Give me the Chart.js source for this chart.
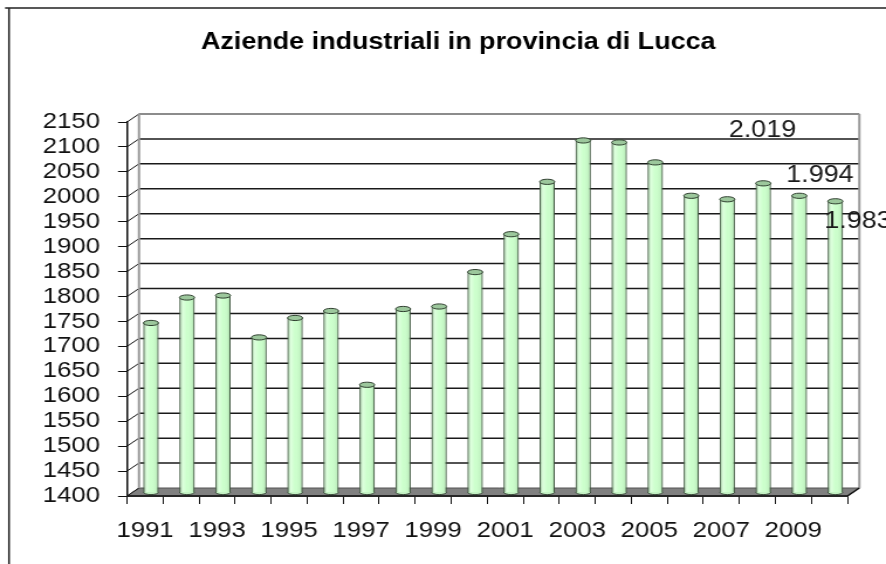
<!DOCTYPE html>
<html>
<head>
<meta charset="utf-8">
<script src="https://cdn.jsdelivr.net/npm/chart.js@4"></script>
<style>
  html, body { margin: 0; padding: 0; background: #fff; overflow: hidden; }
  /* the original picture is stretched sideways, so the whole chart is too */
  #wrap { position: absolute; left: 0; top: 0; width: 757px; height: 564px;
          transform: scaleX(1.17041); transform-origin: 0 0; }
</style>
</head>
<body>
<div id="wrap"><canvas id="c"></canvas></div>
<script>
/* ========= DATI ========= */
const anni = ["1991", "1992", "1993", "1994", "1995", "1996", "1997", "1998", "1999", "2000",
              "2001", "2002", "2003", "2004", "2005", "2006", "2007", "2008", "2009", "2010"];
const aziende = [1739, 1790, 1794, 1710, 1749, 1763, 1615, 1767, 1772, 1841,
                 1917, 2022, 2105, 2101, 2061, 1994, 1987, 2019, 1994, 1983];
const yMin = 1400, yMax = 2150, yStep = 50;
const titolo = "Aziende industriali in provincia di Lucca";

// etichette spostate a mano come nell'originale (indice barra, offset)
const etichette = [
  { i: 17, dx: 4.4, dy: -57, align: "center" },
  { i: 18, dx: 22.7, dy: -24.3, align: "center" },
  { i: 19, dx: -4.4, dy: 16, align: "left" }
];

const FONT = '"Liberation Sans", Arial, sans-serif';
const DX = 10.25, DY = -8;   // profondita' della parete di fondo
const BX = 5.1, BY = -4;     // le barre stanno a meta'

function fmt(v) {
  return Math.floor(v / 1000) + "." + String(v % 1000).padStart(3, "0");
}

/* ========= EFFETTO 3D ========= */
const wall3d = {
  id: "wall3d",
  beforeDraw(chart) {
    const ctx = chart.ctx;
    ctx.save();
    ctx.strokeStyle = "#222";
    ctx.lineWidth = 1.5;
    ctx.beginPath();
    ctx.moveTo(4.3, 8);
    ctx.lineTo(chart.width, 8);
    ctx.moveTo(7.7, 8);
    ctx.lineTo(7.7, chart.height);
    ctx.stroke();
    ctx.restore();
  },
  beforeDatasetsDraw(chart) {
    const { ctx, chartArea: a, scales: { y } } = chart;
    ctx.save();
    // pavimento
    ctx.fillStyle = "#808080";
    ctx.beginPath();
    ctx.moveTo(a.left, a.bottom);
    ctx.lineTo(a.right, a.bottom);
    ctx.lineTo(a.right + DX, a.bottom + DY);
    ctx.lineTo(a.left + DX, a.bottom + DY);
    ctx.closePath();
    ctx.fill();
    ctx.strokeStyle = "#555";
    ctx.lineWidth = 1;
    ctx.stroke();

    // griglia sulla parete di fondo
    y.ticks.forEach((t, i) => {
      const py = y.getPixelForValue(t.value);
      const last = i === y.ticks.length - 1;
      if (i > 0) {
        ctx.strokeStyle = last ? "#8c8c8c" : "#1a1a1a";
        ctx.lineWidth = last ? 2 : 1.5;
        ctx.beginPath();
        ctx.moveTo(a.left + DX, py + DY);
        ctx.lineTo(a.right + DX, py + DY);
        ctx.stroke();
      }
      ctx.strokeStyle = "#111";
      ctx.lineWidth = 1;
      ctx.beginPath();
      ctx.moveTo(a.left, py);
      ctx.lineTo(a.left + DX, py + DY);
      ctx.stroke();
    });

    // bordi della parete
    ctx.strokeStyle = "#999";
    ctx.lineWidth = 2;
    ctx.beginPath();
    ctx.moveTo(a.left + DX, a.top + DY);
    ctx.lineTo(a.left + DX, a.bottom + DY);
    ctx.moveTo(a.right + DX, a.top + DY);
    ctx.lineTo(a.right + DX, a.bottom + DY);
    ctx.stroke();

    ctx.strokeStyle = "#111";
    ctx.lineWidth = 1.5;
    ctx.beginPath();
    ctx.moveTo(a.left, a.bottom);
    ctx.lineTo(a.right, a.bottom);
    ctx.lineTo(a.right + DX, a.bottom + DY);
    ctx.stroke();
    ctx.restore();

    ctx.save();
    ctx.translate(BX, BY);
  },
  afterDatasetsDraw(chart) {
    const ctx = chart.ctx;
    const base = chart.scales.y.getPixelForValue(yMin);
    chart.getDatasetMeta(0).data.forEach(el => {
      const w = el.width, x0 = el.x - w / 2, ry = 2.6;
      const g = ctx.createLinearGradient(x0, 0, x0 + w, 0);
      g.addColorStop(0, "rgba(60,95,60,0.55)");
      g.addColorStop(0.22, "rgba(255,255,255,0.35)");
      g.addColorStop(0.5, "rgba(255,255,255,0)");
      g.addColorStop(0.85, "rgba(80,120,80,0.1)");
      g.addColorStop(1, "rgba(60,95,60,0.45)");
      ctx.fillStyle = g;
      ctx.fillRect(x0, el.y, w, base - el.y);

      // fondo arrotondato
      ctx.beginPath();
      ctx.ellipse(el.x, base, w / 2, ry, 0, 0, Math.PI);
      ctx.fillStyle = "#c4f2c4";
      ctx.fill();
      ctx.strokeStyle = "#3c4c3c";
      ctx.lineWidth = 1;
      ctx.stroke();

      // coperchio
      ctx.beginPath();
      ctx.ellipse(el.x, el.y, w / 2, ry, 0, 0, Math.PI * 2);
      ctx.fillStyle = "#9cc79c";
      ctx.fill();
      ctx.strokeStyle = "#2f3f2f";
      ctx.stroke();
    });
    ctx.restore();
  },
  afterDraw(chart) {
    const ctx = chart.ctx;
    const data = chart.getDatasetMeta(0).data;
    ctx.save();
    // titolo
    ctx.font = "bold 23px " + FONT;
    ctx.fillStyle = "#000";
    ctx.textAlign = "center";
    ctx.textBaseline = "middle";
    ctx.fillText(titolo, 391.5, 42.8);

    ctx.font = "23px " + FONT;
    ctx.fillStyle = "#1a1a1a";
    etichette.forEach(e => {
      const el = data[e.i];
      ctx.textAlign = e.align;
      ctx.fillText(fmt(aziende[e.i]), el.x + e.dx, el.y + e.dy);
    });
    ctx.restore();
  }
};

/* ========= GRAFICO ========= */
Chart.defaults.font.family = FONT;

new Chart(document.getElementById("c"), {
  type: "bar",
  data: {
    labels: anni,
    datasets: [{
      data: aziende,
      backgroundColor: "#ccffcc",
      borderColor: "#3c4c3c",
      borderWidth: 1,
      categoryPercentage: 1,
      barPercentage: 0.42
    }]
  },
  options: {
    responsive: true,
    maintainAspectRatio: false,
    animation: false,
    layout: { padding: { left: 30, right: 33, top: 122, bottom: 0 } },
    plugins: {
      legend: { display: false },
      tooltip: { enabled: false },
      title: { display: false }
    },
    scales: {
      x: {
        offset: true,
        afterFit: s => { s.height = 68; },
        grid: { offset: true, drawOnChartArea: false, tickLength: 8, color: "#111" },
        border: { color: "#111", width: 1.5 },
        ticks: {
          autoSkip: false,
          maxRotation: 0,
          padding: 14,
          color: "#111",
          font: { size: 22 },
          callback: (v, i) => (i % 2 === 0 ? anni[i] : "")
        }
      },
      y: {
        min: yMin,
        max: yMax,
        afterFit: s => { s.width = 78.5; },
        grid: { drawOnChartArea: false, tickLength: 7.7, color: "#111" },
        border: { color: "#111", width: 1.5 },
        ticks: {
          stepSize: yStep,
          autoSkip: false,
          padding: 15.4,
          color: "#111",
          font: { size: 22 },
          callback: v => String(v)
        }
      }
    }
  },
  plugins: [wall3d]
});
</script>
</body>
</html>
